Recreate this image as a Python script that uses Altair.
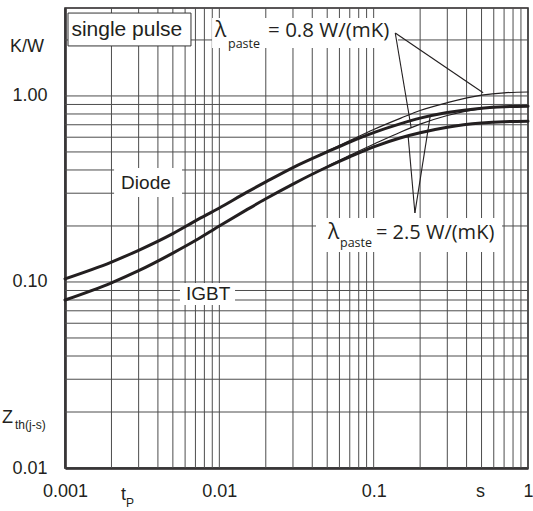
import altair as alt
import pandas as pd

INK = "#231f20"
GRID = "#4d4d4d"

# ---- curve data ----
t_main = [0.001, 0.002, 0.003, 0.005, 0.007, 0.01, 0.015, 0.02, 0.03, 0.05,
          0.07, 0.1, 0.15, 0.2, 0.3, 0.5, 0.7, 1.0]
diode_25 = [0.104, 0.128, 0.148, 0.182, 0.213, 0.25, 0.303, 0.345, 0.412, 0.50,
            0.565, 0.635, 0.71, 0.76, 0.815, 0.86, 0.875, 0.88]
igbt_25 = [0.080, 0.099, 0.115, 0.143, 0.167, 0.20, 0.244, 0.28, 0.336, 0.415,
           0.47, 0.532, 0.596, 0.634, 0.679, 0.715, 0.727, 0.731]
t_thin = [0.03, 0.05, 0.07, 0.1, 0.15, 0.2, 0.3, 0.5, 0.7, 1.0]
diode_08 = [0.412, 0.505, 0.575, 0.66, 0.76, 0.835, 0.92, 1.01, 1.04, 1.05]
igbt_08 = [0.336, 0.418, 0.48, 0.55, 0.64, 0.705, 0.785, 0.855, 0.875, 0.885]

# ---- axis ticks / grid ----
x_ticks = [0.001, 0.01, 0.1, 1.0]
y_ticks = [0.01, 0.1, 1.0]
mult = [1, 2, 3, 4, 5, 6, 7, 8, 9]
x_grid = [m * d for d in [0.001, 0.01, 0.1] for m in mult] + [1.0]
y_grid = [m * d for d in [0.01, 0.1] for m in mult] + [1.0, 2.0]

# ---- annotations (data coordinates) ----
ann_lines = pd.DataFrame({
    "x": [0.138, 0.138, 0.185, 0.185],
    "y": [2.18, 2.18, 0.235, 0.235],
    "x2": [0.512, 0.175, 0.167, 0.232],
    "y2": [1.04, 0.673, 0.617, 0.771],
})
boxes = pd.DataFrame({
    "x": [0.00897, 0.0423, 0.00208, 0.00556],
    "x2": [0.1438, 0.679, 0.00573, 0.01264],
    "y": [2.625, 0.2208, 0.410, 0.0988],
    "y2": [1.811, 0.145, 0.2864, 0.0752],
})
pulse_box = pd.DataFrame({"x": [0.001046], "x2": [0.00655], "y": [2.79], "y2": [1.857]})

arial_txt = pd.DataFrame({
    "label": ["single pulse", "Diode", "IGBT"],
    "x": [0.00110, 0.00231, 0.00608],
    "y": [2.26, 0.3404, 0.0862],
    "size": [21, 19, 19],
})
lam_txt = pd.DataFrame({
    "label": ["λ", "= 0.8 W/(mK)", "λ", "= 2.5 W/(mK)", "paste", "paste"],
    "x": [0.00937, 0.0207, 0.0506, 0.1035, 0.01138, 0.0605],
    "y": [2.234, 2.234, 0.1837, 0.1837, 1.905, 0.1621],
    "size": [21, 20.5, 21, 20, 12.5, 12.5],
})

rows = []
for name, tt, zz, w in [("Diode 2.5", t_main, diode_25, 3.0),
                        ("IGBT 2.5", t_main, igbt_25, 3.0),
                        ("Diode 0.8", t_thin, diode_08, 1.2),
                        ("IGBT 0.8", t_thin, igbt_08, 1.2)]:
    for a, b in zip(tt, zz):
        rows.append({"series": name, "x": a, "y": b, "w": w})
curves = pd.DataFrame(rows)

xscale = alt.Scale(type="log", domain=[0.001, 1.0], nice=False)
yscale = alt.Scale(type="log", domain=[0.01, 2.97], nice=False)
xaxis = alt.Axis(values=x_ticks, format="~g", grid=False, ticks=False, labelFlush=False,
                 labelPadding=14, labelFontSize=18, labelFont="Liberation Sans",
                 labelColor=INK, domainColor=INK, domainWidth=2.5, title=None)
yaxis = alt.Axis(values=y_ticks, format=".2f", grid=False, ticks=False,
                 labelPadding=18, labelFontSize=18, labelFont="Liberation Sans",
                 labelColor=INK, domainColor=INK, domainWidth=2.5, title=None)


def X(f):
    return alt.X(f + ":Q", scale=xscale, axis=xaxis)


def Y(f):
    return alt.Y(f + ":Q", scale=yscale, axis=yaxis)


vgrid = alt.Chart(pd.DataFrame({"x": x_grid})).mark_rule(color=GRID, strokeWidth=1).encode(x=X("x"))
hgrid = alt.Chart(pd.DataFrame({"y": y_grid})).mark_rule(color=GRID, strokeWidth=1).encode(y=Y("y"))

bg = alt.Chart(boxes).mark_rect(fill="white").encode(
    x=X("x"), x2="x2", y=Y("y"), y2="y2")
pbox = alt.Chart(pulse_box).mark_rect(fill="white", stroke="#333333", strokeWidth=1).encode(
    x=X("x"), x2="x2", y=Y("y"), y2="y2")

lines = alt.Chart(ann_lines).mark_rule(color=INK, strokeWidth=1.1).encode(
    x=X("x"), x2="x2", y=Y("y"), y2="y2")

curve = alt.Chart(curves).mark_line(color=INK, interpolate="monotone", strokeCap="round").encode(
    x=X("x"), y=Y("y"), detail="series:N",
    strokeWidth=alt.StrokeWidth("w:Q", scale=None))

t_arial = alt.Chart(arial_txt).mark_text(
    align="left", baseline="middle", font="Liberation Sans", color=INK
).encode(x=X("x"), y=Y("y"), text="label:N", size=alt.Size("size:Q", scale=None))
t_lam = alt.Chart(lam_txt).mark_text(
    align="left", baseline="middle", font="Open Sans", color=INK
).encode(x=X("x"), y=Y("y"), text="label:N", size=alt.Size("size:Q", scale=None))

one = pd.DataFrame({"k": [0]})


def ptext(s, px, py, size=18):
    return alt.Chart(one).mark_text(
        text=s, align="left", baseline="middle", font="Liberation Sans",
        fontSize=size, color=INK
    ).encode(x=alt.value(px - 65), y=alt.value(py - 8))


titles = [
    ptext("K/W", 10, 47),
    ptext("Z", 2, 418),
    ptext("th(j-s)", 15, 425, 12),
    ptext("t", 121, 495),
    ptext("P", 126, 503, 12),
    ptext("s", 476, 492),
]

chart = alt.layer(vgrid, hgrid, bg, pbox, lines, curve, t_arial, t_lam, *titles).properties(
    width=463, height=460,
    autosize=alt.AutoSizeParams(type="none"),
    padding={"left": 65, "top": 8, "right": 5, "bottom": 43},
    background="white",
).configure_view(stroke=INK, strokeWidth=1.5)

chart.save("out.html", embed_options={"renderer": "svg", "actions": False})
